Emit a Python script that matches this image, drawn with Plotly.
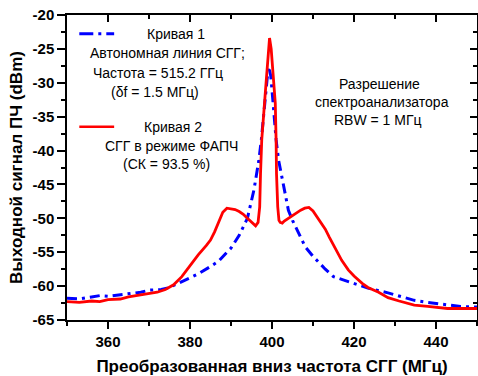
import plotly.graph_objects as go

# ---- data ----
red_f = [350, 353, 356, 358, 360, 363, 365, 368, 370, 372, 374, 376, 378, 380, 382, 384, 385, 386, 387,
         388, 389, 390, 391, 392, 393, 394, 395, 396, 396.6, 397.0, 397.2, 397.5, 398.3, 399.0, 399.4,
         399.8, 400.3, 400.8, 401.0, 401.1, 401.4, 401.7, 402.0, 402.5, 403.0, 404.0, 405.0, 406.0,
         407.0, 408.0, 409.0, 410.0, 411.0, 412.0, 413.0, 414.0, 415.0, 416.0, 417.0, 418.6, 420.0,
         422.0, 423.4, 426.0, 428.3, 431.0, 434.7, 438.0, 442.8, 446.0, 450.0]
red_db = [-62.3, -62.4, -62.2, -62.3, -62.0, -61.9, -61.6, -61.3, -61.0, -60.9, -60.5, -59.8, -58.6, -57.0,
          -55.4, -54.0, -53.2, -52.0, -50.5, -49.1, -48.5, -48.6, -48.7, -49.0, -49.4, -50.0, -50.6,
          -51.1, -50.6, -48.3, -43.4, -38.4, -32.0, -26.5, -23.4, -25.0, -28.5, -33.0, -38.4, -43.4,
          -48.3, -50.3, -50.6, -50.7, -50.4, -50.0, -49.5, -49.1, -48.8, -48.5, -48.4, -48.9, -49.8,
          -50.8, -51.6, -52.8, -54.0, -55.1, -56.2, -57.6, -58.5, -59.6, -60.2, -60.9, -61.7, -62.2,
          -62.8, -63.0, -63.3, -63.3, -63.3]

blue_f = [350, 353, 356, 358, 360, 363, 365, 368, 370, 373, 375, 377, 380, 382, 385, 387, 389, 390, 392,
          394, 395.6, 396.8, 397.4, 398.2, 398.8, 399.2, 399.7, 400.2, 400.7, 401.0, 401.6, 403.1,
          404.0, 405.0, 405.7, 407.0, 408.1, 410.0, 413.0, 415.0, 418.6, 420.0, 423.4, 428.3, 431.0,
          434.7, 438.0, 442.8, 446.0, 450.0]
blue_db = [-61.8, -61.9, -61.6, -61.4, -61.5, -61.3, -61.2, -60.9, -60.6, -60.5, -60.2, -59.6, -58.8,
           -58.2, -57.1, -56.3, -55.0, -54.4, -52.5, -50.0, -45.8, -41.4, -38.4, -33.0, -29.5, -27.6,
           -29.0, -32.5, -36.5, -38.4, -41.4, -46.0, -48.8, -50.3, -51.2, -52.9, -54.2, -55.6, -57.5,
           -58.6, -59.3, -59.6, -60.3, -61.0, -61.5, -62.1, -62.4, -62.8, -63.0, -63.1]

x_range = [350, 450]
y_range = [-65, -20]
x_ticks = [360, 380, 400, 420, 440]
x_labels = ["360", "380", "400", "420", "440"]
y_ticks = [-65, -60, -55, -50, -45, -40, -35, -30, -25, -20]
y_labels = ["-65", "-60", "-55", "-50", "-45", "-40", "-35", "-30", "-25", "-20"]

FONT = "Arial, Liberation Sans, sans-serif"
BLUE = "#0000FF"
RED = "#FF0000"
BLUE_DASH = "10px,5px,3px,5px"

fig = go.Figure()
fig.add_trace(go.Scatter(x=blue_f, y=blue_db, mode="lines",
                         line=dict(color=BLUE, width=3, dash=BLUE_DASH), showlegend=False))
fig.add_trace(go.Scatter(x=red_f, y=red_db, mode="lines",
                         line=dict(color=RED, width=2.8), showlegend=False))
# helper trace so the mirrored (top/right) axes are drawn
fig.add_trace(go.Scatter(x=[None], y=[None], xaxis="x2", yaxis="y2", showlegend=False,
                         hoverinfo="skip"))

# legend-like samples
fig.add_shape(type="line", xref="x", yref="y", x0=353, x1=361.5, y0=-22.76, y1=-22.76,
              line=dict(color=BLUE, width=3, dash="14px,5px,3px,5px"))
fig.add_shape(type="line", xref="x", yref="y", x0=353, x1=361.5, y0=-36.5, y1=-36.5,
              line=dict(color=RED, width=2.5))

notes = [
    ("Кривая 1", 376.7, -22.8),
    ("Автономная линия СГГ;", 374.4, -25.6),
    ("Частота = 515.2 ГГц", 372.1, -28.55),
    ("(δf = 1.5 МГц)", 371.5, -31.3),
    ("Кривая 2", 375.9, -36.5),
    ("СГГ в режиме ФАПЧ", 375.4, -39.3),
    ("(СК = 93.5 %)", 374.3, -42.05),
    ("Разрешение", 426.1, -30.2),
    ("спектроанализатора", 426.9, -32.8),
    ("RBW = 1 МГц", 425.9, -35.5),
]
for t, x, y in notes:
    fig.add_annotation(text=t, x=x, y=y, xref="x", yref="y", showarrow=False,
                       xanchor="center", yanchor="middle",
                       font=dict(family=FONT, size=14, color="black"))

tickfont = dict(family=FONT, size=15, color="black", weight="bold")
titlefont = dict(family=FONT, size=17, color="black", weight="bold")

fig.update_layout(
    width=478, height=376, autosize=False,
    margin=dict(l=67, r=1, t=15, b=56),
    paper_bgcolor="white", plot_bgcolor="white",
    xaxis=dict(range=x_range, tickvals=x_ticks, ticktext=x_labels, showgrid=False, zeroline=False,
               showline=True, linecolor="black", linewidth=1.5,
               ticks="outside", ticklen=7, tickwidth=1.5, tickcolor="black",
               minor=dict(dtick=10, tick0=350, ticks="outside", ticklen=4, tickwidth=1.5,
                          tickcolor="black", showgrid=False),
               tickfont=tickfont,
               title=dict(text="Преобразованная вниз частота СГГ (МГц)", font=titlefont,
                          standoff=12)),
    yaxis=dict(range=y_range, tickvals=y_ticks, ticktext=y_labels, showgrid=False, zeroline=False,
               showline=True, linecolor="black", linewidth=1.5,
               ticks="outside", ticklen=8, tickwidth=1.5, tickcolor="black",
               minor=dict(dtick=2.5, tick0=-65, ticks="outside", ticklen=4, tickwidth=1.5,
                          tickcolor="black", showgrid=False),
               tickfont=tickfont,
               title=dict(text="Выходной сигнал ПЧ (dBm)", font=titlefont, standoff=6)),
    xaxis2=dict(range=x_range, overlaying="x", side="top", anchor="y2", tickvals=x_ticks,
                showticklabels=False, showgrid=False, zeroline=False,
                showline=True, linecolor="black", linewidth=1.5,
                ticks="inside", ticklen=7, tickwidth=1.5, tickcolor="black",
                minor=dict(dtick=10, tick0=350, ticks="inside", ticklen=4, tickwidth=1.5,
                           tickcolor="black", showgrid=False)),
    yaxis2=dict(range=y_range, overlaying="y", side="right", anchor="x2", tickvals=y_ticks,
                showticklabels=False, showgrid=False, zeroline=False,
                showline=True, linecolor="black", linewidth=1.5,
                ticks="inside", ticklen=7, tickwidth=1.5, tickcolor="black",
                minor=dict(dtick=2.5, tick0=-65, ticks="inside", ticklen=4, tickwidth=1.5,
                           tickcolor="black", showgrid=False)),
)

fig.write_html("out.html")
